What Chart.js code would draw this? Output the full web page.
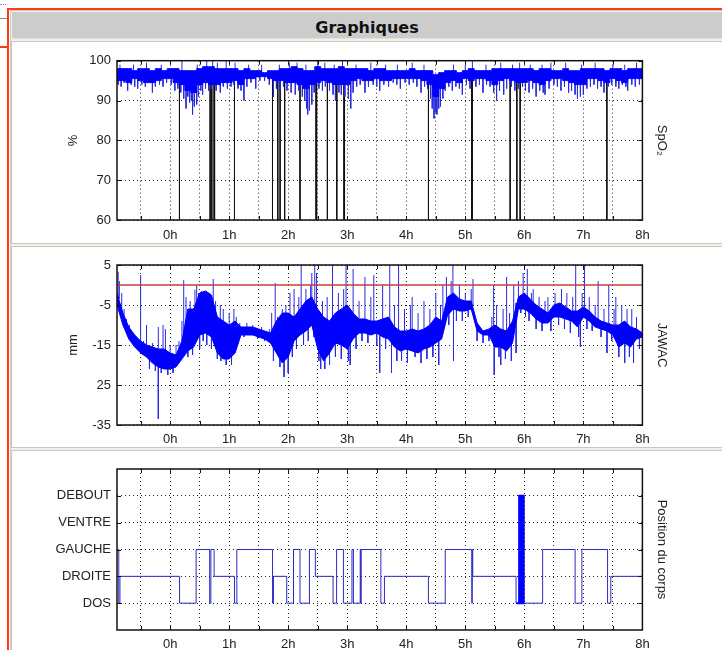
<!DOCTYPE html>
<html>
<head>
<meta charset="utf-8">
<title>Graphiques</title>
<script src="https://cdn.jsdelivr.net/npm/chart.js@4.4.1/dist/chart.umd.min.js"></script>
<style>
    html, body { margin: 0; padding: 0; width: 722px; height: 650px; overflow: hidden; background: #fff; }
    .abs { position: absolute; }
    #topDots { left: 0; top: 4px; width: 6px; height: 0; border-top: 1px dotted #999; }
    #grayStub { left: 0; top: 18px; width: 7px; height: 1px; background: #8a8a8a; }
    #redStub { left: 0; top: 46px; width: 7px; height: 2px; background: #ff3b14; }
    #redTop { left: 7px; top: 8px; width: 715px; height: 2px; background: #ff3b14; }
    #redLeft { left: 7px; top: 8px; width: 2px; height: 642px; background: #ff3b14; }
    #inner { left: 10px; top: 10px; width: 711px; height: 639px; background: #f1f0eb; border-left: 1px solid #cfcbc3; border-top: 1px solid #cfcbc3; }
    #header { left: 12px; top: 12px; width: 710px; height: 23px; padding-top: 3px; background: #cccccc; border-bottom: 1px solid #e2e0da;
              font: bold 16px "DejaVu Sans", Verdana, sans-serif; color: #111; text-align: center; line-height: 25px; }
    .panel { left: 11px; width: 710px; background: #fff; border: 1px solid #cbc7bf; border-right: none; }
    canvas { position: absolute; left: 12px; }
</style>
</head>
<body>
<div id="topDots" class="abs"></div>
<div id="grayStub" class="abs"></div>
<div id="redStub" class="abs"></div>
<div id="redTop" class="abs"></div>
<div id="redLeft" class="abs"></div>
<div id="inner" class="abs"></div>
<div id="header" class="abs">Graphiques</div>
<div class="abs panel" style="top:41px;height:201px;"></div>
<div class="abs panel" style="top:246px;height:200px;"></div>
<div class="abs panel" style="top:450px;height:201px;"></div>
<canvas id="spo2Chart" width="710" height="200" style="top:43px"></canvas>
<canvas id="jawacChart" width="710" height="200" style="top:247px"></canvas>
<canvas id="positionChart" width="710" height="200" style="top:451px"></canvas>
<script>
// time axis (hours)
const hourMin = -0.9;
const hourMax = 8;
const hourTicks = [-0.5, 0, 0.5, 1, 1.5, 2, 2.5, 3, 3.5, 4, 4.5, 5, 5.5, 6, 6.5, 7, 7.5, 8];

// the dense signals are read as an upper / lower envelope every 0.1 h, from -0.9 h to 8 h
const binStart = -0.9;
const binStep = 0.1;

// SpO2 (%)
const spo2Ticks = [60, 70, 80, 90, 100];
const spo2Hi = [
    98, 98, 98, 97.5, 98, 98, 97.5, 98, 97.5,              // -0.9 .. -0.1
    98, 98, 97.5, 97.5, 97.5, 98, 98.5, 98.5, 98, 98,      // 0h
    98, 98, 97.5, 98, 97.5, 97.5, 97, 97.5, 97.5, 98,      // 1h
    98, 98.5, 98, 97.5, 97.5, 98.5, 98, 98, 98, 98.5,      // 2h
    98, 98, 98, 98, 97.5, 98, 98, 97.5, 97.5, 97.5,        // 3h
    97.5, 98, 97.5, 97.5, 97.5, 96.5, 97, 97.5, 97.5, 97,  // 4h
    97.5, 98, 97.5, 97.5, 97.5, 98, 98, 98, 98, 98,        // 5h
    98, 98, 97.5, 98, 98, 97.5, 97.5, 98, 97.5, 97.5,      // 6h
    98, 98, 98, 98, 97.5, 98, 98, 97.5, 98, 98,            // 7h
    98                                                     // 8h
];
const spo2Lo = [
    95, 95, 94.5, 95.5, 95, 94.5, 94.5, 95, 95.5,
    95.5, 94.5, 94, 92.5, 92, 94, 94.5, 94, 94, 94.5,
    94.5, 95, 94, 95.5, 95.5, 96, 96, 95.5, 95, 95,
    94.5, 94.5, 94, 93, 94, 94.5, 95, 94.5, 94, 94,
    94, 95, 95.5, 95, 95, 95.5, 95, 95, 95.5, 95.5,
    95.5, 95.5, 95.5, 95, 94, 91, 93, 94.5, 95, 94.5,
    95.5, 95, 95.5, 95.5, 95, 94, 95, 95.5, 95, 94.5,
    94.5, 95, 94.5, 94, 95, 95.5, 95.5, 95, 94.5, 94,
    94, 95.5, 95.5, 95, 94.5, 95.5, 95, 94.5, 95.5, 95.5,
    95.5
];
// single samples sticking out of the band [hour, %]
const spo2Spikes = [
    [-0.88, 94], [-0.85, 99], [-0.83, 93.5], [-0.78, 94.5], [-0.72, 92.5], [-0.66, 94], [-0.62, 99],
    [-0.6, 93.5], [-0.55, 93], [-0.48, 94], [-0.42, 93.5], [-0.4, 99.5], [-0.36, 94.5], [-0.3, 92],
    [-0.25, 93.5], [-0.18, 94], [-0.15, 99], [-0.12, 93.5], [-0.06, 94.5], [0.02, 94], [0.08, 92.5],
    [0.13, 93], [0.18, 92], [0.2, 100], [0.23, 90.5], [0.27, 88], [0.3, 91], [0.33, 89.5], [0.36, 90],
    [0.38, 86.5], [0.41, 88.5], [0.45, 89], [0.46, 99], [0.48, 91], [0.52, 92.5], [0.55, 91.5],
    [0.6, 93], [0.62, 100], [0.65, 92.5], [0.7, 93], [0.72, 100], [0.78, 92.5], [0.8, 99.5],
    [0.85, 92], [0.9, 93.5], [0.95, 100], [0.97, 93], [1.03, 93.5], [1.08, 94], [1.1, 99.5],
    [1.15, 93], [1.2, 92.5], [1.25, 90], [1.3, 93.5], [1.33, 99], [1.37, 94.5], [1.45, 93],
    [1.52, 95], [1.55, 99], [1.6, 95], [1.68, 94], [1.75, 91], [1.8, 93], [1.85, 99], [1.86, 92.5],
    [1.92, 93.5], [1.98, 92.5], [2.02, 99.5], [2.05, 92], [2.12, 91.5], [2.15, 99.5], [2.18, 92.5],
    [2.24, 91], [2.28, 90], [2.3, 99], [2.31, 88], [2.33, 86.5], [2.36, 87.5], [2.4, 89], [2.44, 92],
    [2.5, 100], [2.52, 93], [2.58, 92.5], [2.62, 99.5], [2.63, 93.5], [2.7, 92.5], [2.76, 91.5],
    [2.78, 99], [2.8, 90], [2.86, 92], [2.9, 91.5], [2.92, 100], [2.96, 91], [3.02, 90.5], [3.06, 88],
    [3.1, 92], [3.15, 99], [3.16, 93.5], [3.22, 94], [3.3, 92], [3.36, 93.5], [3.4, 99.5], [3.44, 94],
    [3.5, 93.5], [3.55, 92.5], [3.62, 94], [3.65, 99], [3.7, 93.5], [3.78, 94.5], [3.84, 94],
    [3.85, 99], [3.9, 93], [3.98, 94.5], [4.05, 94], [4.1, 99.5], [4.12, 94.5], [4.18, 93.5],
    [4.25, 92], [4.3, 99], [4.31, 93.5], [4.36, 93], [4.41, 90.5], [4.44, 88], [4.47, 85.5], [4.5, 87],
    [4.52, 86.5], [4.55, 88], [4.58, 88.5], [4.62, 90.5], [4.66, 92.5], [4.72, 93.5], [4.78, 92.5],
    [4.8, 99], [4.84, 93.5], [4.9, 93], [4.95, 91.5], [5.0, 99], [5.02, 94], [5.08, 93], [5.12, 100],
    [5.18, 93.5], [5.24, 94], [5.3, 92], [5.35, 99], [5.36, 94], [5.42, 93.5], [5.48, 92], [5.53, 90],
    [5.58, 92.5], [5.6, 99.5], [5.65, 91.5], [5.7, 93], [5.78, 93.5], [5.8, 99], [5.84, 92.5],
    [5.9, 93], [5.92, 99.5], [5.97, 93.5], [6.02, 92.5], [6.08, 92], [6.1, 99], [6.14, 93], [6.2, 91],
    [6.26, 92.5], [6.3, 99], [6.32, 92], [6.35, 91.5], [6.42, 93], [6.45, 99.5], [6.5, 94],
    [6.56, 93.5], [6.62, 92.5], [6.68, 93.5], [6.7, 99.5], [6.75, 92], [6.8, 92.5], [6.86, 91.5],
    [6.9, 90.5], [6.95, 91], [6.97, 99], [7.0, 91.5], [7.06, 93], [7.12, 93.5], [7.18, 94],
    [7.2, 99.5], [7.24, 93], [7.3, 93.5], [7.35, 92], [7.42, 93.5], [7.48, 94], [7.5, 99],
    [7.55, 93.5], [7.6, 93], [7.66, 94], [7.7, 99], [7.72, 93.5], [7.75, 92.5], [7.82, 94],
    [7.88, 93.5], [7.9, 99.5], [7.95, 94]
];
// signal losses (black drop lines), hours
const spo2Artifacts = [
    0.158, 0.678, 0.706, 0.745, 0.753, 1.09, 1.734, 1.824, 1.863, 1.94, 2.2, 2.472, 2.481,
    2.664, 2.823, 2.945, 2.954, 4.376, 5.108, 5.117, 5.76, 5.873, 5.929, 7.398
];

// JAWAC (mm)
const jawacTicks = [-35, -25, -15, -5, 5];
const jawacTickLabels = ['-35', '25', '-15', '-5', '5'];
const jawacReference = 0;
const jawacHi = [
    -2, -7, -10.5, -12.5, -14, -15, -15.5, -16, -16,
    -17, -17.5, -14, -6, -6, -2, -1.5, -2.5, -8, -9,
    -10, -9, -10.5, -10.5, -10.5, -11, -11.5, -12, -9, -7,
    -7, -8, -6, -4, -3, -6, -8, -9, -7, -6,
    -5, -7, -8.5, -8.5, -9, -9, -8.5, -8, -10.5, -11.5,
    -11.5, -11, -11.5, -11, -10, -8, -9, -3, -2, -3.5,
    -4, -4, -9.5, -11.5, -11, -10, -11, -11.5, -9, -3,
    -2, -3.5, -5, -6, -7, -5, -4.5, -5.5, -6.5, -6.5,
    -5.5, -6.5, -8, -9, -9.5, -10, -10, -9, -10.5, -11,
    -12
];
const jawacLo = [
    -5, -10, -13.5, -15.5, -17, -18, -19.5, -20.5, -21,
    -21, -20.5, -18.5, -16.5, -15.5, -12.5, -12, -13, -17, -18.5,
    -18.5, -17, -12.5, -12.5, -12.5, -13, -13.5, -14.5, -17, -19.5,
    -18, -14, -12.5, -11.5, -10, -16, -19, -17, -14.5, -15,
    -16, -13.5, -12, -12, -12.5, -12, -13, -13.5, -15.5, -16.5,
    -16, -16.5, -17, -16, -15.5, -14.5, -13.5, -7.5, -6, -6.5,
    -6.5, -6, -11.5, -12.5, -12.5, -15.5, -15.5, -16.5, -14.5, -6,
    -6, -7, -8.5, -9.5, -9.5, -8, -8, -8.5, -9, -10.5,
    -8, -9, -10.5, -11, -11.5, -12.5, -15.5, -14.5, -15.5, -13.5,
    -13
];
const jawacSpikes = [
    [-0.88, 3.3], [-0.86, 1], [-0.82, -2], [-0.78, -6], [-0.74, -8.5], [-0.69, -10], [-0.62, -12],
    [-0.55, -13.5], [-0.5, 2.5], [-0.45, -14], [-0.4, -10], [-0.35, -21], [-0.3, -14.5], [-0.25, -21.5],
    [-0.2, -10.5], [-0.2, -33.5], [-0.15, -22], [-0.12, -10], [-0.08, -11], [-0.04, -22.5], [0.0, -15],
    [0.05, -22], [0.1, -15], [0.15, -14], [0.2, -9], [0.23, 1.2], [0.27, -3], [0.3, -18], [0.34, -4],
    [0.38, -17.5], [0.42, -1.2], [0.45, 0], [0.48, -2], [0.5, -16], [0.53, -1.5], [0.56, -14],
    [0.58, -3], [0.62, -15], [0.66, -2], [0.7, -16], [0.73, 1.5], [0.77, -4], [0.8, -18.5], [0.85, -5],
    [0.86, -19], [0.9, -6], [0.95, -20], [1.0, -7], [1.04, -20], [1.08, -6], [1.12, -8], [1.18, -9.5],
    [1.25, -13], [1.3, -9.5], [1.4, -10], [1.48, -13.5], [1.55, -10.5], [1.6, -14], [1.68, -11],
    [1.72, -7], [1.75, -19], [1.78, 0.5], [1.82, -8], [1.86, -20.5], [1.9, -6], [1.93, -23],
    [1.96, -5], [2.0, -22], [2.03, -2], [2.07, -18], [2.1, -1], [2.14, -16], [2.18, -3], [2.22, 5],
    [2.26, -15], [2.3, -1], [2.34, -14], [2.38, 0], [2.4, 3], [2.43, -13], [2.45, 5], [2.48, 3],
    [2.52, -19], [2.55, -21], [2.58, -4], [2.62, -21], [2.66, -3], [2.7, -20], [2.75, 5], [2.8, -18],
    [2.85, -2], [2.9, -18.5], [2.94, -1], [2.98, 5], [3.02, -19], [3.05, -20], [3.1, 4], [3.15, -16],
    [3.2, -4], [3.25, -14], [3.3, 2], [3.35, -14.5], [3.4, -3], [3.45, 2.5], [3.5, -15], [3.55, -22],
    [3.6, 0], [3.65, -16], [3.72, 5], [3.75, -22], [3.8, -5], [3.84, -19], [3.87, 5], [3.92, -19],
    [3.97, -6], [4.02, -19.5], [4.07, -5], [4.1, -3], [4.15, -18], [4.2, -7], [4.25, -19.5], [4.3, -4],
    [4.35, -18.5], [4.4, -6], [4.45, -18], [4.5, -2], [4.55, -20], [4.58, -5], [4.62, 0], [4.68, 2],
    [4.72, -10], [4.76, 1], [4.79, 5], [4.8, -19], [4.85, -9], [4.9, 0], [4.95, -9], [5.0, -2],
    [5.05, -8], [5.1, -1], [5.13, 1.5], [5.2, -14], [5.3, -14.5], [5.4, -14], [5.45, -8], [5.48, 0],
    [5.49, -22.5], [5.53, -5], [5.57, -18], [5.6, -20], [5.64, -6], [5.68, -18.5], [5.7, 2], [5.75, -7],
    [5.78, -19], [5.82, 0], [5.86, -17], [5.9, 1], [5.94, -7], [5.98, 3], [6.02, -8], [6.05, 4],
    [6.08, -9], [6.12, -2], [6.15, -1], [6.2, -11], [6.25, -3], [6.3, -11.5], [6.35, -4], [6.4, -3],
    [6.45, -11.5], [6.52, -2], [6.58, -10], [6.63, -1], [6.68, -11], [6.72, -2], [6.78, -12], [6.82, -3],
    [6.87, 5], [6.92, -13], [6.95, -15.5], [6.98, -2], [7.02, 5], [7.06, -11], [7.1, -3], [7.15, -11.5],
    [7.2, -5], [7.25, 1], [7.3, -13], [7.35, -6], [7.4, -17], [7.43, 0], [7.48, -14], [7.52, -6],
    [7.55, -3], [7.6, -18], [7.65, -5], [7.7, -19.5], [7.74, -6], [7.78, -18], [7.82, -6], [7.85, -19.5],
    [7.9, -8], [7.95, -16]
];

// body position
const positionTicks = [1, 2, 3, 4, 5];
const positionLabels = ['DOS', 'DROITE', 'GAUCHE', 'VENTRE', 'DEBOUT'];
const positionTimes = [
    -0.9, -0.87, -0.85, 0.16, 0.44, 0.67, 0.69, 0.745, 1.09, 1.13, 1.735, 1.75, 1.975, 2.09,
    2.2, 2.36, 2.46, 2.76, 2.82, 2.935, 3.08, 3.105, 3.22, 3.228, 3.236, 3.57, 3.63, 4.375,
    4.66, 5.11, 5.118, 5.127, 5.86, 5.912, 5.918, 5.924, 5.93, 5.936, 5.942, 5.948, 5.954,
    5.96, 5.966, 5.972, 5.978, 5.984, 5.99, 6.31, 6.86, 6.975, 7.41, 7.465, 8
];
const positionValues = [
    3, 1, 2, 1, 3, 1, 3, 2, 1, 3, 1, 2, 1, 3,
    1, 3, 2, 1, 3, 1, 3, 1, 3, 1, 3, 1, 2, 1,
    3, 1, 3, 2, 1, 5, 1, 5, 1, 5, 1, 5, 1,
    5, 1, 5, 1, 5, 1, 3, 1, 3, 1, 2, 2
];

const textFont = { family: '"Liberation Sans", Arial, sans-serif', size: 13 };
const textColor = '#222';

function binIndex(t) {
    return Math.min(spo2Hi.length - 1, Math.max(0, Math.round((t - binStart) / binStep)));
}

function bandPoints(values) {
    return values.map((v, i) => ({ x: binStart + i * binStep, y: v }));
}

// vertical strokes from the middle of the band out to the sample
function spikePoints(spikes, hi, lo) {
    const pts = [];
    spikes.forEach(s => {
        const i = binIndex(s[0]);
        pts.push({ x: s[0], y: (hi[i] + lo[i]) / 2 }, { x: s[0], y: s[1] }, { x: s[0], y: null });
    });
    return pts;
}

// frame round the plot with small inward tick marks, as on the printed report
const framePlugin = {
    id: 'frame',
    afterDatasetsDraw(chart) {
        const { ctx, chartArea: a, scales } = chart;
        ctx.save();
        ctx.strokeStyle = '#111';
        ctx.lineWidth = 1;
        ctx.beginPath();
        scales.x.ticks.forEach(t => {
            const px = Math.round(scales.x.getPixelForValue(t.value)) + 0.5;
            ctx.moveTo(px, a.bottom); ctx.lineTo(px, a.bottom - 4);
            ctx.moveTo(px, a.top); ctx.lineTo(px, a.top + 4);
        });
        scales.y.ticks.forEach(t => {
            const py = Math.round(scales.y.getPixelForValue(t.value)) + 0.5;
            ctx.moveTo(a.left, py); ctx.lineTo(a.left + 4, py);
            ctx.moveTo(a.right, py); ctx.lineTo(a.right - 4, py);
        });
        ctx.stroke();
        ctx.lineWidth = 1.5;
        ctx.strokeRect(a.left, a.top, a.right - a.left, a.bottom - a.top);
        ctx.restore();
    }
};

function buildChart(id, cfg) {
    return new Chart(document.getElementById(id), {
        type: 'line',
        data: { datasets: cfg.datasets },
        options: {
            responsive: false,
            animation: false,
            events: [],
            layout: { padding: { top: cfg.top, left: 0, right: 0, bottom: 0 } },
            plugins: { legend: { display: false }, tooltip: { enabled: false } },
            elements: { point: { radius: 0 }, line: { tension: 0 } },
            scales: {
                x: {
                    type: 'linear',
                    min: hourMin,
                    max: hourMax,
                    afterBuildTicks: s => { s.ticks = hourTicks.map(v => ({ value: v })); },
                    afterFit: s => { s.height = 200 - cfg.bottom; },
                    ticks: {
                        callback: v => Number.isInteger(v) ? v + 'h' : '',
                        font: textFont, color: textColor, padding: cfg.xPad,
                        autoSkip: false, maxRotation: 0
                    },
                    grid: { color: '#222', lineWidth: 1, drawTicks: false },
                    border: { display: false, dash: [1, 3] }
                },
                y: {
                    type: 'linear',
                    position: 'left',
                    min: cfg.min,
                    max: cfg.max,
                    afterBuildTicks: s => { s.ticks = cfg.ticks.map(v => ({ value: v })); },
                    afterFit: s => { s.width = 105; },
                    ticks: { callback: cfg.label, font: textFont, color: textColor, padding: 6, autoSkip: false },
                    grid: { color: '#222', lineWidth: 1, drawTicks: false },
                    border: { display: false, dash: [1, 3] },
                    title: { display: cfg.leftTitle !== '', text: cfg.leftTitle, font: textFont, color: textColor, padding: { top: 53.7, bottom: 0 } }
                },
                y2: {
                    type: 'linear',
                    position: 'right',
                    afterFit: s => { s.width = 79.6; },
                    ticks: { display: false },
                    grid: { display: false },
                    border: { display: false },
                    title: { display: true, text: cfg.rightTitle, font: textFont, color: textColor, padding: { top: 52.2, bottom: 0 } }
                }
            }
        },
        plugins: [framePlugin]
    });
}

// SpO2
const spo2Drops = [];
spo2Artifacts.forEach(t => {
    spo2Drops.push({ x: t, y: spo2Lo[binIndex(t)] + 1 }, { x: t, y: 60 }, { x: t, y: null });
});

buildChart('spo2Chart', {
    top: 17.7, bottom: 177, xPad: 8,
    min: 60, max: 100, ticks: spo2Ticks, label: v => String(v),
    leftTitle: '%', rightTitle: 'SpO\u2082',
    datasets: [
        { data: bandPoints(spo2Hi), borderColor: '#0000ff', borderWidth: 1, fill: false, stepped: 'middle', order: 1 },
        { data: bandPoints(spo2Lo), borderColor: '#0000ff', borderWidth: 1, backgroundColor: '#0000ff', fill: '-1', stepped: 'middle', order: 1 },
        { data: spikePoints(spo2Spikes, spo2Hi, spo2Lo), borderColor: '#2a2ae0', borderWidth: 1, spanGaps: false, order: 2 },
        { data: spo2Drops, borderColor: '#111', borderWidth: 1, spanGaps: false, order: 3 }
    ]
});

// JAWAC
buildChart('jawacChart', {
    top: 18, bottom: 178, xPad: 6.2,
    min: -35, max: 5, ticks: jawacTicks, label: v => jawacTickLabels[jawacTicks.indexOf(v)],
    leftTitle: 'mm', rightTitle: 'JAWAC',
    datasets: [
        { data: [{ x: hourMin, y: jawacReference }, { x: hourMax, y: jawacReference }], borderColor: '#cc3a3a', borderWidth: 1.5, order: 0 },
        { data: bandPoints(jawacHi), borderColor: '#0000ff', borderWidth: 1, fill: false, order: 1 },
        { data: bandPoints(jawacLo), borderColor: '#0000ff', borderWidth: 1, backgroundColor: '#0000ff', fill: '-1', order: 1 },
        { data: spikePoints(jawacSpikes, jawacHi, jawacLo), borderColor: '#2a2ae0', borderWidth: 1, spanGaps: false, order: 2 }
    ]
});

// Position du corps (the short standing episode is drawn in full blue)
const isStanding = c => c.p0.parsed.y === 5 || c.p1.parsed.y === 5;
buildChart('positionChart', {
    top: 18, bottom: 179, xPad: 6.2,
    min: 0, max: 6, ticks: positionTicks, label: v => positionLabels[positionTicks.indexOf(v)],
    leftTitle: '', rightTitle: 'Position du corps',
    datasets: [
        {
            data: positionTimes.map((t, i) => ({ x: t, y: positionValues[i] })),
            borderColor: '#2b2bc4', borderWidth: 1, stepped: true,
            segment: {
                borderColor: c => isStanding(c) ? '#0000ff' : undefined,
                borderWidth: c => isStanding(c) ? 2 : undefined
            }
        }
    ]
});
</script>
</body>
</html>
